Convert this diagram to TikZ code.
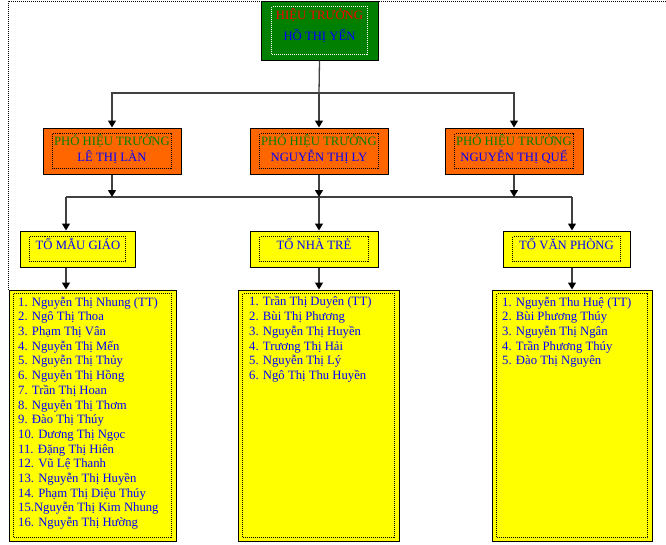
\documentclass[tikz,border=0pt]{standalone}
\usepackage{fontspec}
\setmainfont{Liberation Serif}
\usetikzlibrary{arrows.meta}
\definecolor{dgreen}{HTML}{007F00}
\definecolor{orng}{HTML}{FF6600}
\definecolor{ylw}{HTML}{FFFF00}
\definecolor{tgreen}{HTML}{008000}
\definecolor{linegray}{HTML}{404040}
\newcommand\dotbox[4]{\draw[dotline,#4] ([shift={(#2,-#3)}]#1.north west) rectangle ([shift={(-#2,#3)}]#1.south east);}
\begin{document}
\begin{tikzpicture}[x=1pt,y=1pt,
  box/.style={draw=black,line width=1pt,rectangle,inner sep=0pt},
  dotline/.style={line width=0.9pt,dash pattern=on 1pt off 1pt},
  conn/.style={draw=linegray,line width=1.3pt},
  arr/.style={conn,-{Triangle[width=8pt,length=7pt,fill=black,color=black]}},
  txt/.style={font=\fontsize{12.7}{14.7}\selectfont,inner sep=0pt},
  ltxt/.style={txt,text=blue,align=left,anchor=north west}]
\useasboundingbox (0,0) rectangle (666,-544);
% outer dotted frame
\draw[dotline] (8,-290) -- (8,-1) -- (666,-1);
% top box
\node[box,fill=dgreen,minimum width=117pt,minimum height=59pt] (top) at (319.5,-30.5) {};
\dotbox{top}{11}{6}{white}
\node[txt,text=red] (toptitle) at (319.5,-15) {HIỆU TRƯỞNG};
\node[txt,text=blue] (topname) at (319.5,-36) {HỒ THỊ YẾN};
% vice principals
\node[box,fill=orng,minimum width=138pt,minimum height=46pt] (vp1) at (112,-151) {};
\node[box,fill=orng,minimum width=138pt,minimum height=46pt] (vp2) at (319,-151) {};
\node[box,fill=orng,minimum width=138pt,minimum height=46pt] (vp3) at (514,-151) {};
\foreach \n in {vp1,vp2,vp3}{\dotbox{\n}{10}{6}{black}}
\node[txt,text=tgreen] (vp1t) at (112,-141) {PHÓ HIỆU TRƯỞNG};
\node[txt,text=blue] (vp1n) at (112,-157) {LÊ THỊ LÀN};
\node[txt,text=tgreen] (vp2t) at (319,-141) {PHÓ HIỆU TRƯỞNG};
\node[txt,text=blue] (vp2n) at (319,-157) {NGUYỄN THỊ LY};
\node[txt,text=tgreen] (vp3t) at (514,-141) {PHÓ HIỆU TRƯỞNG};
\node[txt,text=blue] (vp3n) at (514,-157) {NGUYỄN THỊ QUẾ};
% groups
\node[box,fill=ylw,minimum width=115pt,minimum height=36pt] (g1) at (77.5,-249) {};
\node[box,fill=ylw,minimum width=128pt,minimum height=36pt] (g2) at (314,-249) {};
\node[box,fill=ylw,minimum width=127pt,minimum height=36pt] (g3) at (566.5,-249) {};
\foreach \n in {g1,g2,g3}{\dotbox{\n}{10}{6}{black}}
\node[txt,text=blue] (g1t) at (78,-244) {TỔ MẪU GIÁO};
\node[txt,text=blue] (g2t) at (314,-244) {TỔ NHÀ TRẺ};
\node[txt,text=blue] (g3t) at (566.5,-244) {TỔ VĂN PHÒNG};
% lists
\node[box,fill=ylw,minimum width=167pt,minimum height=251pt] (l1) at (92.5,-415.5) {};
\node[box,fill=ylw,minimum width=161pt,minimum height=251pt] (l2) at (318.5,-415.5) {};
\node[box,fill=ylw,minimum width=160pt,minimum height=251pt] (l3) at (572,-415.5) {};
\foreach \n in {l1,l2,l3}{\dotbox{\n}{5}{4}{black}}
\node[ltxt] (l1t) at (18,-296.5) {1. Nguyễn Thị Nhung (TT)\\2. Ngô Thị Thoa\\3. Phạm Thị Vân\\4. Nguyễn Thị Mến\\5. Nguyễn Thị Thủy\\6. Nguyễn Thị Hồng\\7. Trần Thị Hoan\\8. Nguyễn Thị Thơm\\9. Đào Thị Thúy\\10. Dương Thị Ngọc\\11. Đặng Thị Hiên\\12. Vũ Lệ Thanh\\13. Nguyễn Thị Huyền\\14. Phạm Thị Diệu Thúy\\15.Nguyễn Thị Kim Nhung\\16. Nguyễn Thị Hường};
\node[ltxt] (l2t) at (249,-296.5) {1. Trần Thị Duyên (TT)\\2. Bùi Thị Phương\\3. Nguyễn Thị Huyền\\4. Trương Thị Hải\\5. Nguyễn Thị Lý\\6. Ngô Thị Thu Huyền};
\node[ltxt] (l3t) at (502,-296.5) {1. Nguyễn Thu Huệ (TT)\\2. Bùi Phương Thúy\\3. Nguyễn Thị Ngân\\4. Trần Phương Thúy\\5. Đào Thị Nguyên};
% connectors
\coordinate (j1) at (319,-93);
\coordinate (j2) at (319,-197);
\coordinate (h1) at (66,-197);
\coordinate (h3) at (572,-197);
\draw[conn] (top.south) -- (j1);
\draw[arr] (j1) -| (vp1.north);
\draw[arr] (j1) -- (vp2.north);
\draw[arr] (j1) -| (vp3.north);
\draw[conn] (h1) -- (h3);
\draw[arr] (vp1.south) -- (vp1.south |- j2);
\draw[arr] (vp2.south) -- (j2);
\draw[arr] (vp3.south) -- (vp3.south |- j2);
\draw[arr] (h1) -- (h1 |- g1.north);
\draw[arr] (j2) -- (j2 |- g2.north);
\draw[arr] (h3) -- (h3 |- g3.north);
\draw[arr] (h1 |- g1.south) -- (h1 |- l1.north);
\draw[arr] (j2 |- g2.south) -- (j2 |- l2.north);
\draw[arr] (h3 |- g3.south) -- (h3 |- l3.north);
\end{tikzpicture}
\end{document}
